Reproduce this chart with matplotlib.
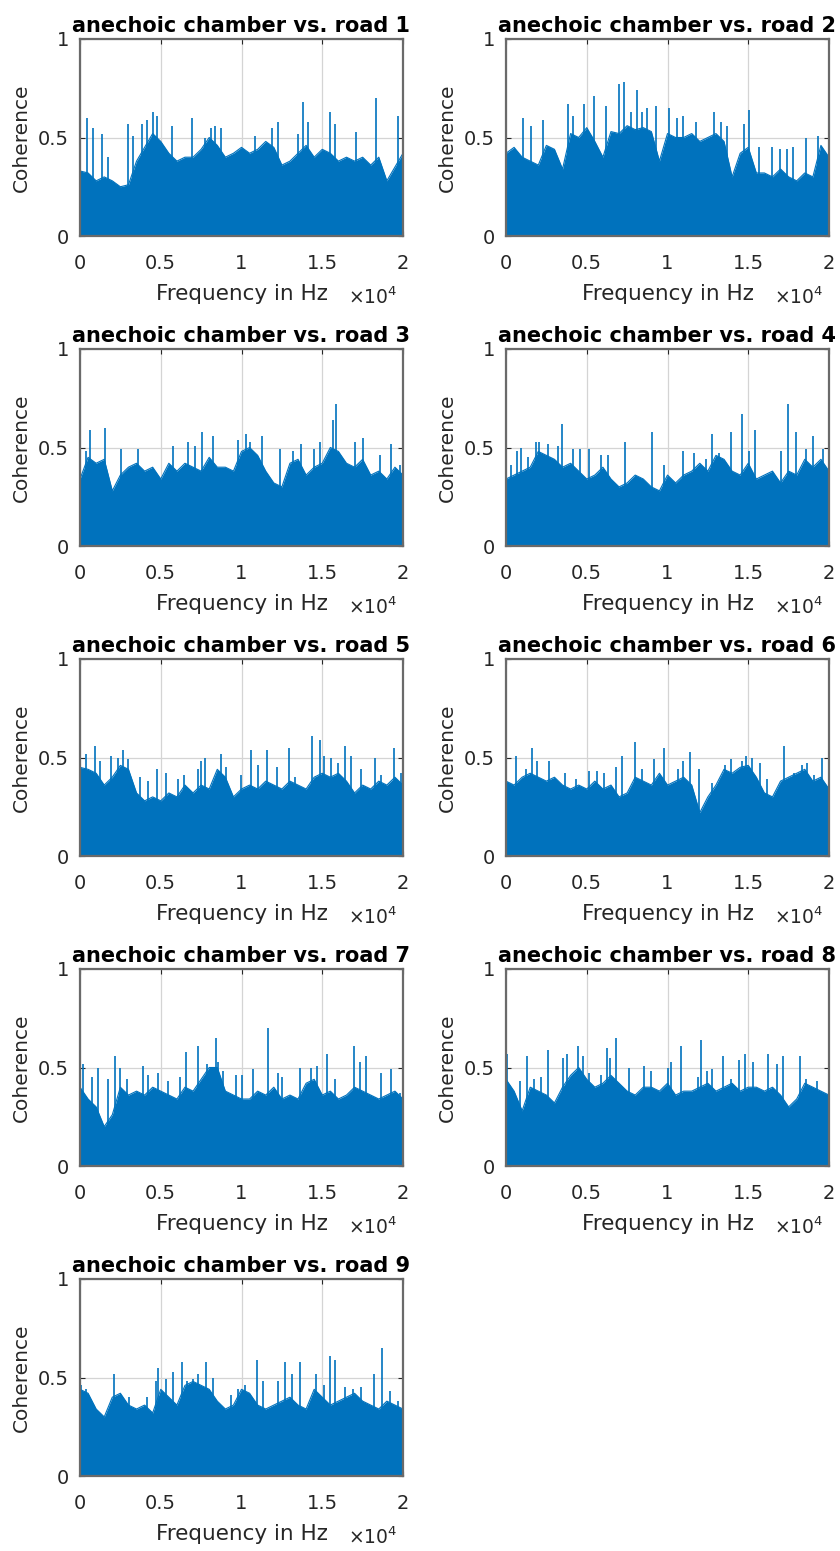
import numpy as np
import matplotlib
matplotlib.use('Agg')
import matplotlib.pyplot as plt

# coherence, frequency in kHz
body_freq = np.linspace(0, 20, 41)

body_1 = [0.33, 0.32, 0.28, 0.30, 0.28, 0.25, 0.26, 0.38, 0.45, 0.52, 0.48, 0.42, 0.38, 0.40, 0.40, 0.44,
          0.50, 0.46, 0.40, 0.42, 0.45, 0.42, 0.44, 0.48, 0.45, 0.36, 0.38, 0.42, 0.46, 0.40, 0.44, 0.42,
          0.38, 0.40, 0.38, 0.40, 0.36, 0.40, 0.28, 0.35, 0.42]
spike_f_1 = [0.41, 0.82, 1.34, 1.75, 2.99, 3.30, 3.81, 4.12, 4.54, 4.74, 5.67, 6.91, 7.73, 8.14, 8.35, 8.76,
             10.83, 11.86, 12.27, 13.50, 13.80, 14.10, 15.46, 15.77, 17.10, 18.35, 19.70]
spike_c_1 = [0.60, 0.55, 0.52, 0.40, 0.57, 0.51, 0.57, 0.59, 0.63, 0.61, 0.56, 0.60, 0.50, 0.55, 0.56, 0.55,
             0.51, 0.55, 0.58, 0.52, 0.68, 0.58, 0.63, 0.57, 0.53, 0.70, 0.61]

body_2 = [0.42, 0.45, 0.40, 0.38, 0.36, 0.46, 0.44, 0.34, 0.52, 0.50, 0.55, 0.48, 0.40, 0.53, 0.52, 0.56,
          0.54, 0.55, 0.53, 0.38, 0.52, 0.50, 0.50, 0.52, 0.48, 0.50, 0.52, 0.48, 0.30, 0.42, 0.45, 0.32,
          0.32, 0.30, 0.34, 0.30, 0.28, 0.32, 0.30, 0.46, 0.40]
spike_f_2 = [1.03, 1.55, 2.27, 3.81, 4.12, 4.85, 5.42, 6.19, 7.01, 7.28, 7.73, 8.10, 8.45, 8.76, 9.28, 10.10,
             10.58, 10.93, 11.75, 12.89, 13.30, 13.67, 14.74, 15.05, 15.67, 16.50, 16.97, 17.38, 17.80,
             18.56, 19.32]
spike_c_2 = [0.60, 0.56, 0.59, 0.67, 0.61, 0.67, 0.71, 0.66, 0.77, 0.78, 0.63, 0.74, 0.63, 0.65, 0.66, 0.65,
             0.60, 0.61, 0.58, 0.63, 0.58, 0.56, 0.57, 0.64, 0.45, 0.45, 0.44, 0.44, 0.45, 0.50, 0.51]

body_3 = [0.34, 0.45, 0.42, 0.44, 0.28, 0.36, 0.40, 0.42, 0.38, 0.40, 0.34, 0.42, 0.38, 0.42, 0.40, 0.38,
          0.45, 0.40, 0.40, 0.38, 0.48, 0.50, 0.46, 0.38, 0.32, 0.30, 0.42, 0.44, 0.36, 0.40, 0.42, 0.50,
          0.48, 0.42, 0.40, 0.44, 0.36, 0.38, 0.34, 0.40, 0.36]
spike_f_3 = [0.35, 0.62, 1.55, 2.54, 3.61, 5.77, 6.70, 7.11, 7.57, 8.25, 9.79, 10.27, 10.52, 11.30, 12.37,
             13.20, 13.67, 14.50, 14.89, 15.67, 15.88, 17.05, 17.53, 18.56, 19.28, 19.80]
spike_c_3 = [0.48, 0.59, 0.60, 0.49, 0.49, 0.51, 0.53, 0.51, 0.58, 0.56, 0.54, 0.57, 0.53, 0.56, 0.49,
             0.48, 0.52, 0.49, 0.53, 0.64, 0.72, 0.53, 0.55, 0.46, 0.52, 0.41]

body_4 = [0.34, 0.36, 0.38, 0.40, 0.48, 0.46, 0.44, 0.40, 0.42, 0.38, 0.34, 0.36, 0.40, 0.34, 0.30, 0.32,
          0.36, 0.34, 0.30, 0.28, 0.36, 0.32, 0.36, 0.38, 0.42, 0.38, 0.46, 0.44, 0.38, 0.36, 0.42, 0.34,
          0.36, 0.38, 0.32, 0.38, 0.36, 0.44, 0.40, 0.44, 0.38]
spike_f_4 = [0.31, 0.68, 0.93, 1.34, 1.86, 2.06, 2.58, 3.20, 3.44, 4.12, 4.60, 5.16, 5.88, 6.29, 7.36, 9.03,
             9.79, 10.93, 11.65, 12.37, 12.78, 13.20, 13.96, 14.64, 15.05, 15.40, 17.01, 17.47, 17.94,
             18.56, 19.03, 19.65]
spike_c_4 = [0.41, 0.48, 0.50, 0.45, 0.53, 0.53, 0.52, 0.51, 0.62, 0.49, 0.49, 0.49, 0.46, 0.46, 0.53, 0.58,
             0.41, 0.48, 0.47, 0.44, 0.57, 0.47, 0.58, 0.67, 0.48, 0.59, 0.48, 0.72, 0.58, 0.49, 0.56, 0.49]

body_5 = [0.45, 0.44, 0.42, 0.36, 0.40, 0.46, 0.44, 0.32, 0.28, 0.30, 0.28, 0.32, 0.30, 0.36, 0.32, 0.36,
          0.34, 0.44, 0.40, 0.30, 0.34, 0.36, 0.34, 0.38, 0.36, 0.34, 0.38, 0.36, 0.34, 0.40, 0.42, 0.40,
          0.42, 0.38, 0.32, 0.36, 0.34, 0.38, 0.36, 0.40, 0.36]
spike_f_5 = [0.02, 0.35, 0.93, 1.24, 1.90, 2.37, 2.68, 2.99, 3.71, 4.23, 4.74, 5.30, 6.04, 6.45, 7.32, 7.49,
             7.73, 8.76, 9.07, 9.96, 10.58, 11.03, 11.55, 12.17, 12.93, 13.30, 14.39, 14.89, 15.11, 15.57,
             15.98, 16.43, 16.76, 17.42, 18.25, 18.66, 19.44, 19.90]
spike_c_5 = [0.60, 0.52, 0.56, 0.48, 0.51, 0.50, 0.54, 0.49, 0.40, 0.38, 0.44, 0.42, 0.39, 0.41, 0.44, 0.48,
             0.50, 0.52, 0.45, 0.41, 0.54, 0.46, 0.54, 0.45, 0.55, 0.40, 0.61, 0.59, 0.51, 0.50, 0.47, 0.56,
             0.51, 0.44, 0.50, 0.41, 0.55, 0.42]

body_6 = [0.38, 0.36, 0.40, 0.42, 0.40, 0.38, 0.40, 0.36, 0.34, 0.36, 0.34, 0.38, 0.34, 0.36, 0.30, 0.32,
          0.40, 0.38, 0.36, 0.42, 0.36, 0.38, 0.40, 0.36, 0.22, 0.30, 0.36, 0.44, 0.42, 0.45, 0.46, 0.40,
          0.32, 0.30, 0.38, 0.40, 0.42, 0.44, 0.38, 0.40, 0.34]
spike_f_6 = [0.62, 1.24, 1.59, 1.92, 2.68, 3.65, 4.33, 5.16, 5.63, 6.04, 6.80, 7.18, 8.00, 8.45, 9.18, 9.79,
             10.62, 10.99, 11.40, 11.92, 12.78, 13.55, 13.96, 14.64, 14.85, 15.26, 15.73, 16.15, 17.22,
             17.84, 18.35, 18.66, 19.07, 19.59]
spike_c_6 = [0.51, 0.44, 0.55, 0.48, 0.48, 0.42, 0.39, 0.43, 0.43, 0.42, 0.45, 0.51, 0.58, 0.44, 0.49, 0.55,
             0.44, 0.48, 0.53, 0.44, 0.37, 0.46, 0.49, 0.48, 0.51, 0.50, 0.47, 0.39, 0.56, 0.42, 0.46, 0.47,
             0.41, 0.50]

body_7 = [0.40, 0.34, 0.30, 0.20, 0.26, 0.40, 0.36, 0.38, 0.36, 0.40, 0.38, 0.36, 0.34, 0.40, 0.38, 0.44,
          0.50, 0.50, 0.38, 0.36, 0.34, 0.34, 0.38, 0.36, 0.40, 0.34, 0.36, 0.34, 0.42, 0.44, 0.36, 0.38,
          0.34, 0.36, 0.40, 0.38, 0.36, 0.34, 0.36, 0.38, 0.34]
spike_f_7 = [0.21, 0.72, 1.09, 1.75, 2.17, 2.47, 2.89, 3.92, 4.23, 4.85, 5.42, 6.19, 6.54, 7.28, 7.84, 8.41,
             8.56, 8.87, 9.69, 10.04, 10.72, 11.61, 12.23, 12.48, 13.61, 14.33, 14.70, 15.32, 15.82, 16.97,
             17.32, 17.73, 18.62, 19.28, 19.80]
spike_c_7 = [0.52, 0.45, 0.50, 0.44, 0.56, 0.50, 0.44, 0.51, 0.46, 0.47, 0.43, 0.45, 0.58, 0.61, 0.52, 0.65,
             0.53, 0.48, 0.46, 0.46, 0.49, 0.70, 0.47, 0.45, 0.50, 0.50, 0.51, 0.57, 0.44, 0.61, 0.53, 0.56,
             0.47, 0.49, 0.37]

body_8 = [0.44, 0.38, 0.28, 0.40, 0.38, 0.36, 0.32, 0.40, 0.46, 0.50, 0.44, 0.40, 0.42, 0.46, 0.42, 0.38,
          0.36, 0.40, 0.40, 0.38, 0.42, 0.36, 0.38, 0.38, 0.40, 0.42, 0.38, 0.40, 0.42, 0.38, 0.40, 0.40,
          0.38, 0.40, 0.36, 0.30, 0.34, 0.42, 0.40, 0.38, 0.36]
spike_f_8 = [0.06, 0.89, 1.30, 1.71, 2.17, 2.58, 3.51, 3.77, 4.47, 4.74, 5.16, 5.88, 6.23, 6.45, 6.80, 7.63,
             8.52, 8.97, 10.00, 10.21, 10.83, 11.86, 12.10, 12.47, 12.78, 13.44, 13.92, 14.43, 14.78, 15.32,
             16.25, 16.76, 17.18, 18.21, 18.56, 19.28]
spike_c_8 = [0.57, 0.43, 0.56, 0.44, 0.45, 0.59, 0.55, 0.57, 0.61, 0.56, 0.47, 0.46, 0.60, 0.55, 0.65, 0.50,
             0.51, 0.48, 0.50, 0.53, 0.61, 0.45, 0.64, 0.48, 0.49, 0.56, 0.44, 0.54, 0.57, 0.53, 0.57, 0.52,
             0.56, 0.56, 0.44, 0.43]

body_9 = [0.44, 0.42, 0.34, 0.30, 0.40, 0.42, 0.36, 0.34, 0.36, 0.32, 0.44, 0.40, 0.36, 0.46, 0.48, 0.46,
          0.44, 0.38, 0.34, 0.36, 0.44, 0.42, 0.36, 0.34, 0.36, 0.38, 0.40, 0.36, 0.34, 0.44, 0.40, 0.36,
          0.38, 0.40, 0.42, 0.38, 0.36, 0.34, 0.38, 0.36, 0.34]
spike_f_9 = [0.06, 0.35, 2.12, 3.03, 4.12, 4.68, 4.85, 5.30, 5.77, 6.33, 6.60, 7.01, 7.28, 7.79, 8.21, 9.38,
             9.79, 10.21, 10.99, 11.34, 12.23, 12.68, 13.13, 13.65, 14.64, 15.11, 15.51, 15.77, 16.39, 16.91,
             17.42, 18.21, 18.70, 19.18, 19.69]
spike_c_9 = [0.46, 0.44, 0.52, 0.40, 0.40, 0.48, 0.55, 0.49, 0.53, 0.58, 0.48, 0.49, 0.52, 0.58, 0.50, 0.41,
             0.44, 0.46, 0.59, 0.48, 0.48, 0.58, 0.52, 0.58, 0.52, 0.46, 0.61, 0.59, 0.45, 0.44, 0.45, 0.52,
             0.65, 0.43, 0.38]

bodies = [body_1, body_2, body_3, body_4, body_5, body_6, body_7, body_8, body_9]
spike_fs = [spike_f_1, spike_f_2, spike_f_3, spike_f_4, spike_f_5, spike_f_6, spike_f_7, spike_f_8, spike_f_9]
spike_cs = [spike_c_1, spike_c_2, spike_c_3, spike_c_4, spike_c_5, spike_c_6, spike_c_7, spike_c_8, spike_c_9]

xticks = [0, 5000, 10000, 15000, 20000]
xticklabels = ['0', '0.5', '1', '1.5', '2']
yticks = [0, 0.5, 1]
yticklabels = ['0', '0.5', '1']

blue = '#0072BD'
txt = '#262626'
plt.rcParams['font.family'] = ['DejaVu Sans']

W, H = 840, 1551
fig = plt.figure(figsize=(W / 100, H / 100), dpi=100)

col_left = [80, 506]
ax_w, ax_h = 323, 197
row_top = [39, 349, 659, 969, 1279]

for i in range(9):
    r, c = divmod(i, 2)
    left = col_left[c] / W
    bottom = 1 - (row_top[r] + ax_h) / H
    ax = fig.add_axes([left, bottom, ax_w / W, ax_h / H])

    f = body_freq * 1000
    ax.fill_between(f, 0, bodies[i], color=blue, lw=0, zorder=2)
    ax.plot(f, bodies[i], color=blue, lw=0.8, zorder=2)
    ax.vlines(np.array(spike_fs[i]) * 1000, 0, spike_cs[i], color=blue, lw=1.2, zorder=2)

    ax.set_xlim(0, 20000)
    ax.set_ylim(0, 1)
    ax.set_xticks(xticks)
    ax.set_xticklabels(xticklabels)
    ax.set_yticks(yticks)
    ax.set_yticklabels(yticklabels)
    ax.grid(True, color='#d4d4d4', lw=0.9, zorder=0)
    ax.set_axisbelow(True)
    ax.tick_params(direction='in', top=True, right=True, length=3.5, width=0.8, color=txt,
                   labelsize=14, labelcolor=txt)
    ax.tick_params(axis='x', pad=13)
    ax.tick_params(axis='y', pad=8)
    for s in ax.spines.values():
        s.set_color('#6a6a6a')
        s.set_linewidth(1.6)

    ax.set_title('anechoic chamber vs. road %d' % (i + 1), fontsize=15, fontweight='bold',
                 color='black', pad=5)
    ax.set_xlabel('Frequency in Hz', fontsize=15.5, color=txt, labelpad=8)
    ax.set_ylabel('Coherence', fontsize=14.5, color=txt, labelpad=5)
    ax.text(0.905, -0.31, r'$\times10^{4}$', transform=ax.transAxes, ha='center', va='center',
            fontsize=13.5, color=txt)

fig.savefig('out.png', dpi=100)
